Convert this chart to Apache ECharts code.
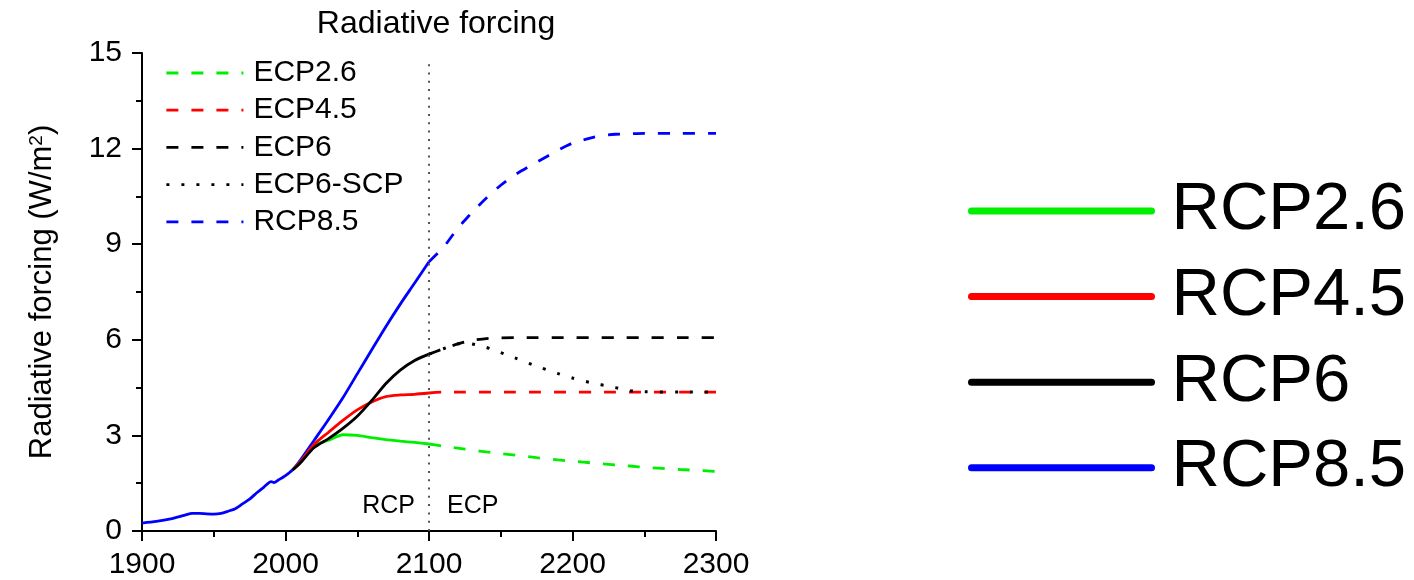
<!DOCTYPE html>
<html>
<head>
<meta charset="utf-8">
<title>Radiative forcing</title>
<script src="https://cdn.jsdelivr.net/npm/echarts@6/dist/echarts.min.js"></script>
<style>
  html, body { margin: 0; padding: 0; background: #fff; }
  #chart { width: 1414px; height: 580px; }
</style>
</head>
<body>
<div id="chart"></div>
<script>
// Historical forcing (shared by all pathways), W/m2
const histYears = [1900, 1910, 1920, 1930, 1935, 1940, 1950, 1955, 1960, 1965, 1970, 1975, 1980, 1985, 1990, 1992, 1995, 2000];
const histForcing = [0.25, 0.3, 0.38, 0.5, 0.55, 0.55, 0.53, 0.55, 0.62, 0.7, 0.85, 1.0, 1.2, 1.38, 1.55, 1.52, 1.6, 1.74];

// RCP period 2005-2100
const rcpYears = [2005, 2010, 2020, 2030, 2040, 2050, 2060, 2070, 2080, 2090, 2100];
const rcp26 = [1.92, 2.15, 2.68, 2.85, 3.02, 3.0, 2.93, 2.87, 2.82, 2.78, 2.73];
const rcp45 = [1.92, 2.15, 2.72, 3.1, 3.47, 3.8, 4.05, 4.22, 4.27, 4.29, 4.33];
const rcp6 = [1.92, 2.12, 2.62, 2.9, 3.22, 3.6, 4.09, 4.63, 5.05, 5.35, 5.55];
const rcp85 = [1.92, 2.2, 2.85, 3.5, 4.18, 4.93, 5.68, 6.42, 7.12, 7.78, 8.45];

// ECP period 2100-2300
const ecpYears = [2100, 2110, 2120, 2125, 2130, 2140, 2150, 2160, 2175, 2190, 2200, 2215, 2225, 2230, 2240, 2250, 2275, 2300];
const ecp26 = [2.73, 2.66, 2.6, 2.57, 2.54, 2.48, 2.43, 2.38, 2.3, 2.23, 2.19, 2.13, 2.09, 2.07, 2.04, 2.0, 1.93, 1.87];
const ecp45 = [4.33, 4.36, 4.36, 4.36, 4.36, 4.36, 4.36, 4.36, 4.36, 4.36, 4.36, 4.36, 4.36, 4.36, 4.36, 4.36, 4.36, 4.36];
const ecp6 = [5.55, 5.72, 5.87, 5.93, 5.98, 6.04, 6.06, 6.07, 6.07, 6.07, 6.07, 6.07, 6.07, 6.07, 6.07, 6.07, 6.07, 6.07];
const ecp6scp = [5.55, 5.72, 5.87, 5.9, 5.87, 5.76, 5.6, 5.43, 5.17, 4.94, 4.8, 4.63, 4.55, 4.5, 4.4, 4.37, 4.36, 4.36];
const ecp85 = [8.45, 8.9, 9.5, 9.75, 10.0, 10.45, 10.85, 11.18, 11.57, 11.95, 12.17, 12.36, 12.43, 12.45, 12.47, 12.48, 12.48, 12.48];

// Period split and its labels
const splitYear = 2100;
const periodLabels = [
  { name: 'RCP', year: 2071.8, value: 0.78 },
  { name: 'ECP', year: 2130.5, value: 0.78 }
];

// Legend captions
const ecpLegend = ['ECP2.6', 'ECP4.5', 'ECP6', 'ECP6-SCP', 'ECP8.5'];
const ecpCaption = { 'ECP8.5': 'RCP8.5' };
const rcpLegend = ['RCP2.6', 'RCP4.5', 'RCP6', 'RCP8.5'];

const GREEN = '#00ee00', RED = '#ff0000', BLACK = '#000000', BLUE = '#0000ff';
const FONT = '"Liberation Sans", Arial, Helvetica, sans-serif';

function pairs(xs, ys) { return xs.map((x, i) => [x, ys[i]]); }

function lineSeries(name, data, color, dash, width) {
  return {
    name: name,
    type: 'line',
    data: data,
    symbol: 'none',
    smooth: 0.25,
    lineStyle: { color: color, width: width || 2.8, type: dash || 'solid', cap: 'butt' },
    itemStyle: { color: color },
    emphasis: { disabled: true },
    silent: true,
    animation: false
  };
}

const dash = [12, 13];
const dot = [3, 12];

const series = [
  lineSeries('RCP8.5', pairs(histYears.concat(rcpYears), histForcing.concat(rcp85)), BLUE),
  lineSeries('RCP2.6', pairs(rcpYears, rcp26), GREEN),
  lineSeries('RCP4.5', pairs(rcpYears, rcp45), RED),
  lineSeries('RCP6', pairs(rcpYears, rcp6), BLACK),
  lineSeries('ECP2.6', pairs(ecpYears, ecp26), GREEN, dash),
  lineSeries('ECP4.5', pairs(ecpYears, ecp45), RED, dash),
  lineSeries('ECP6', pairs(ecpYears, ecp6), BLACK, dash),
  lineSeries('ECP6-SCP', pairs(ecpYears, ecp6scp), BLACK, dot, 3),
  lineSeries('ECP8.5', pairs(ecpYears, ecp85), BLUE, dash)
];

// Dotted divider between periods plus the period captions
series[4].markLine = {
  silent: true,
  symbol: 'none',
  animation: false,
  label: { show: false },
  lineStyle: { color: '#555', width: 2, type: [2, 6.3] },
  emphasis: { disabled: true },
  data: [[{ coord: [splitYear, 0] }, { coord: [splitYear, 14.75] }]]
};
series[4].markPoint = {
  silent: true,
  animation: false,
  symbol: 'circle',
  symbolSize: 1,
  itemStyle: { color: 'rgba(0,0,0,0)' },
  label: {
    show: true,
    position: 'inside',
    formatter: p => p.name,
    color: '#000',
    fontSize: 25,
    fontFamily: FONT
  },
  data: periodLabels.map(d => ({ name: d.name, coord: [d.year, d.value] }))
};

const chart = echarts.init(document.getElementById('chart'), null, { renderer: 'canvas' });

chart.setOption({
  backgroundColor: '#fff',
  animation: false,
  title: {
    text: 'Radiative forcing',
    left: 431,
    top: 3,
    textAlign: 'center',
    textStyle: { fontSize: 32, fontWeight: 'normal', color: '#000', fontFamily: FONT }
  },
  grid: { left: 142, right: 698, top: 53, bottom: 48, containLabel: false },
  legend: [
    {
      data: ecpLegend,
      orient: 'vertical',
      left: 160,
      top: 53,
      itemWidth: 77,
      itemHeight: 14,
      itemGap: 7.2,
      selectedMode: false,
      formatter: n => ecpCaption[n] || n,
      itemStyle: { opacity: 0 },
      lineStyle: { width: 2.8 },
      textStyle: { fontSize: 30, lineHeight: 30, color: '#000', fontFamily: FONT, padding: [0, 0, 0, 5] }
    },
    {
      data: rcpLegend,
      orient: 'vertical',
      left: 963,
      top: 171,
      itemWidth: 180,
      itemHeight: 14,
      itemGap: 15.6,
      selectedMode: false,
      itemStyle: { opacity: 0 },
      lineStyle: { width: 7, cap: 'round', type: 'solid' },
      textStyle: { fontSize: 67, lineHeight: 70, color: '#000', fontFamily: FONT, padding: [0, 0, 0, 15] }
    }
  ],
  xAxis: {
    type: 'value',
    min: 1900,
    max: 2300,
    interval: 100,
    axisLine: { show: true, onZero: false, lineStyle: { color: '#000', width: 2 } },
    axisTick: { show: true, inside: false, length: 10, lineStyle: { color: '#000', width: 2 } },
    minorTick: { show: true, splitNumber: 2, length: 6, lineStyle: { color: '#000', width: 2 } },
    splitLine: { show: false },
    axisLabel: { fontSize: 30, color: '#000', margin: 19, fontFamily: FONT, formatter: v => String(v) }
  },
  yAxis: {
    type: 'value',
    min: 0,
    max: 15,
    interval: 3,
    name: 'Radiative forcing (W/m{sup|2})',
    nameLocation: 'middle',
    nameGap: 84,
    nameRotate: 90,
    nameTextStyle: {
      fontSize: 31,
      color: '#000',
      fontFamily: FONT,
      rich: { sup: { fontSize: 19, verticalAlign: 'top', lineHeight: 14, color: '#000', fontFamily: FONT, padding: [0, 0, 14, 0] } }
    },
    axisLine: { show: true, onZero: false, lineStyle: { color: '#000', width: 2 } },
    axisTick: { show: true, inside: false, length: 10, lineStyle: { color: '#000', width: 2 } },
    minorTick: { show: true, splitNumber: 2, length: 6, lineStyle: { color: '#000', width: 2 } },
    splitLine: { show: false },
    axisLabel: { fontSize: 30, color: '#000', margin: 20, fontFamily: FONT }
  },
  series: series
});
</script>
</body>
</html>
